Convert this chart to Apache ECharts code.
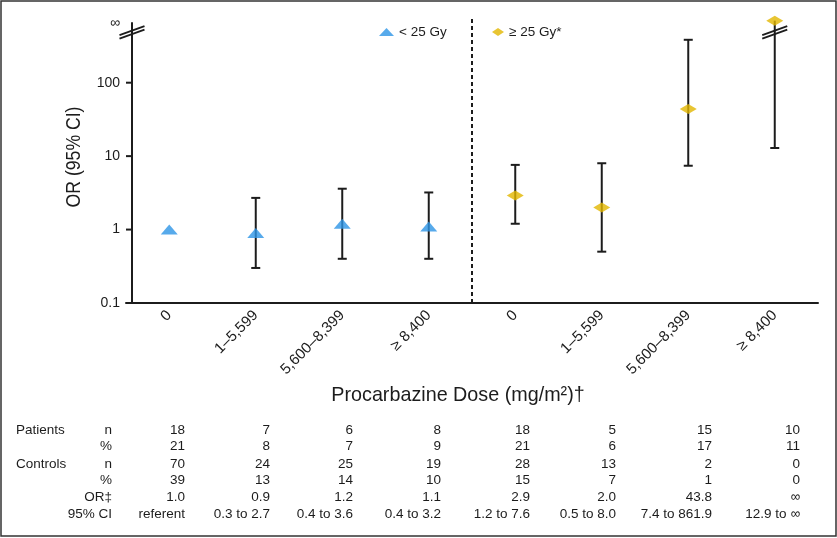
<!DOCTYPE html>
<html><head><meta charset="utf-8">
<script src="https://cdn.jsdelivr.net/npm/echarts@6/dist/echarts.min.js"></script>
<style>html,body{margin:0;padding:0;background:#fff}#c{width:837px;height:538px}</style>
</head><body><div id="c"></div>
<script>
// ---------------- data ----------------
const doseLabels = ['0', '1–5,599', '5,600–8,399', '≥ 8,400', '0', '1–5,599', '5,600–8,399', '≥ 8,400'];
const groupNames = ['< 25 Gy', '≥ 25 Gy*'];
const groupOfCategory = [0, 0, 0, 0, 1, 1, 1, 1];
const orValues = [1.0, 0.9, 1.2, 1.1, 2.9, 2.0, 43.8, Infinity];
const ciLow = [null, 0.3, 0.4, 0.4, 1.2, 0.5, 7.4, 12.9];
const ciHigh = [null, 2.7, 3.6, 3.2, 7.6, 8.0, 861.9, Infinity];
const patientsN = [18, 7, 6, 8, 18, 5, 15, 10];
const patientsPct = [21, 8, 7, 9, 21, 6, 17, 11];
const controlsN = [70, 24, 25, 19, 28, 13, 2, 0];
const controlsPct = [39, 13, 14, 10, 15, 7, 1, 0];
const yTickValues = [0.1, 1, 10, 100];
const yAxisMin = 0.1;
const yAxisMax = 650;       // top of the drawn axis, labelled ∞
const infinityValue = 700;  // where an infinite OR is drawn in the figure
const breakValue = 485;     // where the axis break marks sit
const drawnWhiskerCap = 384; // figure ends finite whiskers beyond the axis range here

// ---------------- style ----------------
const FONT = "'Liberation Sans', Arial, Helvetica, sans-serif";
const INK = '#1c1c1c';
const BLUE = '#2d95e6';
const GOLD = '#e2b700';
const AXIS_SHIFT = 6;

const fmt = v => (v === Infinity ? '∞' : v.toFixed(1));
const orText = orValues.map(fmt);
const ciText = ciLow.map((lo, i) => lo === null ? 'referent' : fmt(lo) + ' to ' + fmt(ciHigh[i]));
const plotValue = v => (v === Infinity ? infinityValue : v);

const chart = echarts.init(document.getElementById('c'), null, {renderer: 'canvas'});

const errData = [];
ciLow.forEach((lo, i) => {
  if (lo === null) return;
  const hi = ciHigh[i];
  const finite = hi !== Infinity;
  errData.push([i, lo, finite ? Math.min(hi, drawnWhiskerCap) : infinityValue, finite ? 1 : 0]);
});

const breakData = [[0, breakValue, 1]];
ciHigh.forEach((hi, i) => { if (hi === Infinity) breakData.push([i, breakValue, 0]); });

function seriesData(g) {
  return orValues.map((v, i) => groupOfCategory[i] === g ? plotValue(v) : '-');
}

// ---------------- table ----------------
const tableRows = [
  ['Patients', 'n', patientsN],
  ['', '%', patientsPct],
  ['Controls', 'n', controlsN],
  ['', '%', controlsPct],
  ['', 'OR‡', orText],
  ['', '95% CI', ciText]
];
const rowY = [430, 446, 464.5, 480, 497, 514];
const colRight = [185, 270, 353, 441, 530, 616, 712, 800];
const graphics = [];
graphics.push({type: 'rect', shape: {x: 1, y: 1, width: 835, height: 535},
  style: {fill: 'none', stroke: '#333', lineWidth: 1.5}, silent: true});
tableRows.forEach((r, ri) => {
  const y = rowY[ri];
  const base = {fontSize: 13.5, fontFamily: FONT, fill: INK, verticalAlign: 'middle'};
  if (r[0]) graphics.push({type: 'text', x: 16, y, style: Object.assign({text: r[0], align: 'left'}, base)});
  graphics.push({type: 'text', x: 112, y, style: Object.assign({text: r[1], align: 'right'}, base)});
  r[2].forEach((v, ci) => {
    graphics.push({type: 'text', x: colRight[ci], y, style: Object.assign({text: String(v), align: 'right'}, base)});
  });
});
graphics.push({type: 'text', x: 74, y: 157, rotation: Math.PI / 2, scaleX: 0.84,
  style: {text: 'OR (95% CI)', fontSize: 21, fontFamily: FONT, fill: INK, align: 'center', verticalAlign: 'middle'}});
graphics.push({type: 'text', x: 458, y: 395, scaleX: 0.94,
  style: {text: 'Procarbazine Dose (mg/m²)†', fontSize: 21, fontFamily: FONT, fill: INK, align: 'center', verticalAlign: 'middle'}});

const option = {
  animation: false,
  backgroundColor: '#fff',
  textStyle: {fontFamily: FONT, color: INK},
  grid: {left: 126, right: 19, top: 23, bottom: 235, containLabel: false},
  legend: [
    {data: [groupNames[0]], left: 374, top: 20, itemWidth: 15, itemHeight: 8, itemGap: 0,
      textStyle: {fontSize: 13.5, color: INK, fontFamily: FONT}},
    {data: [groupNames[1]], left: 487, top: 20, itemWidth: 12, itemHeight: 8, itemGap: 0,
      textStyle: {fontSize: 13.5, color: INK, fontFamily: FONT}}
  ],
  xAxis: {
    type: 'category',
    data: doseLabels.map((_, i) => 'c' + i),
    boundaryGap: true,
    axisLine: {lineStyle: {color: INK, width: 2}},
    axisTick: {length: 6, lineStyle: {color: INK, width: 2}, interval: (idx) => idx !== 4},
    axisLabel: {interval: 0, rotate: 45, margin: 10, fontSize: 15, color: INK, fontFamily: FONT,
      formatter: (v, i) => doseLabels[i]},
    splitLine: {show: false}
  },
  yAxis: {
    type: 'log', logBase: 10, min: yAxisMin, max: yAxisMax, offset: -AXIS_SHIFT,
    axisLine: {show: true, lineStyle: {color: INK, width: 2}},
    axisTick: {show: false},
    axisLabel: {fontSize: 14, color: INK, margin: 12, fontFamily: FONT,
      formatter: v => v >= 600 ? '∞' : (v < 1 ? '0.1' : String(Math.round(v)))},
    splitLine: {show: false}
  },
  series: [
    {
      type: 'custom', name: 'yticks', silent: true, clip: false, z: 1,
      data: yTickValues.map(v => [0, v]),
      renderItem: (params, api) => {
        const cs = params.coordSys;
        const y = api.coord([0, api.value(1)])[1];
        const x = cs.x + AXIS_SHIFT;
        return {type: 'line', shape: {x1: x - 6, y1: y, x2: x, y2: y}, style: {stroke: INK, lineWidth: 2}};
      }
    },
    {
      type: 'custom', name: 'divider', silent: true, clip: false, z: 1,
      data: [[3]],
      renderItem: (params, api) => {
        const cs = params.coordSys;
        const x = (api.coord([3, 1])[0] + api.coord([4, 1])[0]) / 2;
        return {type: 'line', shape: {x1: x, y1: cs.y - 4, x2: x, y2: cs.y + cs.height},
          style: {stroke: INK, lineWidth: 2, lineDash: [4, 3]}};
      }
    },
    {
      type: 'custom', name: 'ci', silent: true, clip: false, z: 2,
      data: errData,
      renderItem: (params, api) => {
        const lo = api.coord([api.value(0), api.value(1)]);
        const hi = api.coord([api.value(0), api.value(2)]);
        const capped = api.value(3) === 1;
        const w = 4.5;
        const st = {stroke: INK, lineWidth: 2};
        const ch = [
          {type: 'line', shape: {x1: lo[0], y1: lo[1], x2: hi[0], y2: hi[1]}, style: st},
          {type: 'line', shape: {x1: lo[0] - w, y1: lo[1], x2: lo[0] + w, y2: lo[1]}, style: st}
        ];
        if (capped) ch.push({type: 'line', shape: {x1: hi[0] - w, y1: hi[1], x2: hi[0] + w, y2: hi[1]}, style: st});
        return {type: 'group', children: ch};
      }
    },
    {
      type: 'custom', name: 'breaks', silent: true, clip: false, z: 3,
      data: breakData,
      renderItem: (params, api) => {
        const cs = params.coordSys;
        const p = api.coord([api.value(0), api.value(1)]);
        const x = api.value(2) === 1 ? cs.x + AXIS_SHIFT : p[0];
        const y = p[1];
        const st = {stroke: INK, lineWidth: 1.8};
        const mk = dy => ({type: 'line', shape: {x1: x - 12.5, y1: y + dy + 4.5, x2: x + 12.5, y2: y + dy - 4.5}, style: st});
        return {type: 'group', children: [mk(-1.7), mk(1.7)]};
      }
    },
    {
      type: 'scatter', name: groupNames[0], symbol: 'triangle', symbolSize: [17, 10], clip: false, z: 5,
      itemStyle: {color: BLUE}, data: seriesData(0)
    },
    {
      type: 'scatter', name: groupNames[1], symbol: 'diamond', symbolSize: [17, 10], clip: false, z: 5,
      itemStyle: {color: GOLD}, data: seriesData(1)
    }
  ],
  graphic: graphics
};
chart.setOption(option);
</script></body></html>
